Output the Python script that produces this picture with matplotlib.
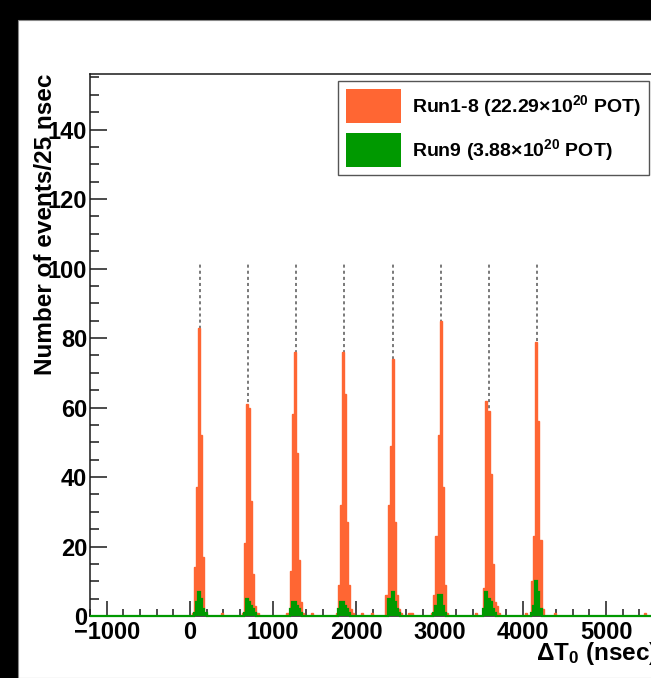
import numpy as np
import matplotlib

matplotlib.use("Agg")
import matplotlib.pyplot as plt
from matplotlib.patches import Rectangle
from matplotlib.ticker import MultipleLocator

# ---- data (25 ns bins) ----
bin_width = 25
x_min, x_max = -1200, 5600

bunch_centers = [120, 700, 1276, 1856, 2440, 3016, 3596, 4176]

# Run1-8: first bin edge of each bunch and its counts
run18_starts = [25, 625, 1150, 1750, 2350, 2900, 3525, 4100]
run18_counts = [
    [1, 14, 37, 83, 52, 17, 1],
    [1, 21, 61, 60, 33, 12, 3, 1],
    [1, 1, 13, 58, 76, 47, 16, 4, 1],
    [1, 9, 32, 76, 64, 27, 9, 2, 1],
    [6, 32, 49, 74, 27, 6, 2, 1],
    [1, 6, 23, 52, 85, 37, 9, 1],
    [8, 62, 59, 41, 15, 4, 3, 1],
    [10, 23, 79, 56, 22, 2],
]
run18_single_bins = [375, 1450, 2050, 2175, 2625, 2650, 3425, 4025, 4375, 5450]

# Run9
run9_starts = [50, 650, 1200, 1775, 2375, 2925, 3525, 4100]
run9_counts = [
    [1, 4, 7, 5, 2, 1],
    [1, 5, 4, 3, 2, 1],
    [2, 4, 4, 3, 2, 1],
    [2, 4, 4, 3, 2, 1],
    [5, 5, 7, 4, 2, 1],
    [1, 3, 6, 6, 3, 1],
    [2, 7, 5, 4, 2, 1],
    [1, 3, 10, 7, 2],
]

label_run18 = "Run1-8 (22.29×10$^{20}$ POT)"
label_run9 = "Run9 (3.88×10$^{20}$ POT)"
x_major_ticks = [-1000, 0, 1000, 2000, 3000, 4000, 5000]
y_major_ticks = [0, 20, 40, 60, 80, 100, 120, 140]

ORANGE = "#ff6633"
GREEN = "#009900"
INK = "#1a1a1a"

plt.rcParams.update(
    {
        "font.family": ["Liberation Sans", "DejaVu Sans"],
        "font.weight": "bold",
        "mathtext.fontset": "custom",
        "mathtext.rm": "Liberation Sans:bold",
        "mathtext.bf": "Liberation Sans:bold",
        "mathtext.it": "Liberation Sans:bold",
        "mathtext.default": "rm",
    }
)


def build_hist(starts, counts, singles=()):
    edges = np.arange(x_min, x_max + bin_width, bin_width)
    values = np.zeros(len(edges) - 1)
    for start, block in zip(starts, counts):
        first = (start - x_min) // bin_width
        values[first:first + len(block)] += block
    for pos in singles:
        values[(pos - x_min) // bin_width] += 1
    return edges, values


edges, run18 = build_hist(run18_starts, run18_counts, run18_single_bins)
_, run9 = build_hist(run9_starts, run9_counts)

W, H = 651, 678
fig = plt.figure(figsize=(W / 100, H / 100), dpi=100, facecolor="black")
fig.add_artist(
    Rectangle((18 / W, 0), 1, 1 - 20 / H, transform=fig.transFigure,
              facecolor="white", edgecolor="#888888", linewidth=0.8, zorder=-5)
)

ax = fig.add_axes([90 / W, 62 / H, 566 / W, 542 / H])
ax.set_facecolor("white")
ax.set_xlim(x_min, x_max)
ax.set_ylim(0, 156)

ax.vlines(bunch_centers, 0, 102, colors="#555555", linestyles=(0, (2, 2)),
          linewidth=1.1, zorder=1)
h18 = ax.stairs(run18, edges, fill=True, color=ORANGE, zorder=2, label=label_run18)
ax.stairs(run18, edges, fill=False, color=ORANGE, linewidth=1.0, zorder=2.1)
h9 = ax.stairs(run9, edges, fill=True, color=GREEN, zorder=3, label=label_run9)
ax.stairs(run9, edges, fill=False, color=GREEN, linewidth=1.6, zorder=4, clip_on=False)

ax.set_xticks(x_major_ticks)
ax.set_yticks(y_major_ticks)
ax.xaxis.set_minor_locator(MultipleLocator(200))
ax.yaxis.set_minor_locator(MultipleLocator(5))
ax.tick_params(axis="both", which="both", direction="in", color=INK, width=1.1,
               labelcolor="black", labelsize=17)
ax.tick_params(axis="y", which="major", length=12, pad=2)
ax.tick_params(axis="y", which="minor", length=6.5)
ax.tick_params(axis="x", which="major", length=10.8, pad=3.5)
ax.tick_params(axis="x", which="minor", length=5)
for side in ax.spines.values():
    side.set_color(INK)
    side.set_linewidth(1.1)

fig.text(46 / W, 1 - 74 / H, "Number of events/25 nsec", rotation=90,
         ha="center", va="top", fontsize=17.5, fontweight="bold")
fig.text(658 / W, 1 - 660 / H, "ΔT$_0$ (nsec)", ha="right", va="baseline",
         fontsize=17.5, fontweight="bold")

leg = ax.legend(
    handles=[h18, h9],
    loc="upper left",
    bbox_to_anchor=(338 / W, 1 - 81 / H),
    bbox_transform=fig.transFigure,
    borderaxespad=0,
    fancybox=False,
    framealpha=1,
    edgecolor="#555555",
    prop={"size": 14, "weight": "bold"},
    handlelength=2.83,
    handleheight=2.3,
    handletextpad=0.6,
    labelspacing=0.55,
    borderpad=0.4,
)
leg.get_frame().set_linewidth(1.0)

fig.savefig("out.png", dpi=100, facecolor=fig.get_facecolor())
